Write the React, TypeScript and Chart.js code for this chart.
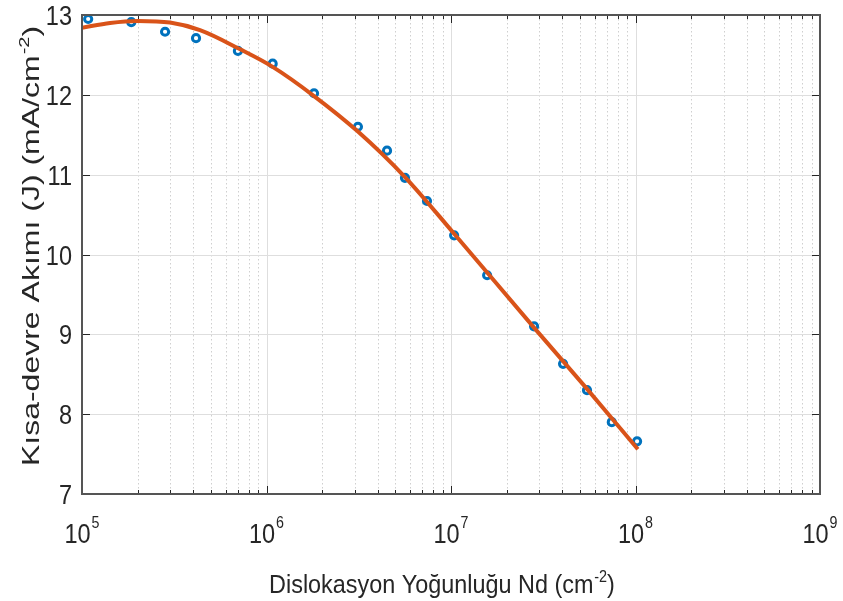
import React, { useEffect, useRef } from 'react';
import { Chart, registerables } from 'chart.js';

Chart.register(...registerables);

// ---- data ----
const measuredNd = [1.08e5, 1.85e5, 2.82e5, 4.15e5, 7.0e5, 1.08e6, 1.81e6, 3.13e6, 4.5e6, 5.63e6, 7.41e6, 1.04e7, 1.57e7, 2.82e7, 4.05e7, 5.46e7, 7.44e7, 1.02e8];
const measuredJ = [12.95, 12.91, 12.79, 12.71, 12.55, 12.39, 12.02, 11.6, 11.3, 10.96, 10.67, 10.24, 9.74, 9.1, 8.63, 8.3, 7.9, 7.66];

const fitNd = [1e5, 1.42e5, 2e5, 3e5, 4.36e5, 7.2e5, 1.08e6, 1.81e6, 3.13e6, 5.63e6, 1.04e7, 2.78e7, 5.4e7, 1.03e8];
const fitJ = [12.84, 12.9, 12.925, 12.905, 12.81, 12.57, 12.35, 11.985, 11.54, 10.97, 10.26, 9.1, 8.33, 7.56];

const yTickValues = [7, 8, 9, 10, 11, 12, 13];
const xDecadeExponents = [5, 6, 7, 8, 9];
const minorMultipliers = [2, 3, 4, 5, 6, 7, 8, 9];

const xTitleParts = [
  { t: 'Dislokasyon Yoğunluğu Nd (cm' },
  { t: '-2', sup: true },
  { t: ')' },
];
const yTitleParts = [
  { t: 'Kısa-devre Akımı (J) (mA/cm' },
  { t: '-2', sup: true },
  { t: ')' },
];

const FONT = '"Liberation Sans", Arial, Helvetica, sans-serif';

type Seg = { t: string; sup?: boolean };

function drawRich(
  ctx: CanvasRenderingContext2D,
  segs: Seg[],
  x: number,
  y: number,
  size: number,
  supSize: number,
  supRise: number,
  align: 'left' | 'center' | 'right',
  sx: number,
  rotate: boolean,
  color: string
) {
  ctx.save();
  const widths = segs.map((s) => {
    ctx.font = `${s.sup ? supSize : size}px ${FONT}`;
    return ctx.measureText(s.t).width + (s.sup ? 1 : 0);
  });
  const total = widths.reduce((a, b) => a + b, 0);
  ctx.translate(x, y);
  ctx.scale(sx, 1);
  if (rotate) ctx.rotate(-Math.PI / 2);
  let cx = align === 'left' ? 0 : align === 'center' ? -total / 2 : -total;
  ctx.fillStyle = color;
  ctx.textBaseline = 'alphabetic';
  ctx.textAlign = 'left';
  segs.forEach((s, i) => {
    ctx.font = `${s.sup ? supSize : size}px ${FONT}`;
    ctx.fillText(s.t, cx + (s.sup ? 1 : 0), s.sup ? -supRise : 0);
    cx += widths[i];
  });
  ctx.restore();
}

const matlabAxes = {
  id: 'matlabAxes',
  beforeDatasetsDraw(chart: any) {
    const { ctx, chartArea: a, scales } = chart;
    const xs = scales.x;
    const ys = scales.y;
    ctx.save();
    ctx.lineWidth = 1;
    // minor x grid (dotted)
    ctx.strokeStyle = '#cfcfcf';
    ctx.setLineDash([1.5, 2.5]);
    xDecadeExponents.slice(0, -1).forEach((e) => {
      minorMultipliers.forEach((m) => {
        const px = Math.round(xs.getPixelForValue(m * Math.pow(10, e))) + 0.5;
        ctx.beginPath();
        ctx.moveTo(px, a.top);
        ctx.lineTo(px, a.bottom);
        ctx.stroke();
      });
    });
    ctx.setLineDash([]);
    // major grid
    ctx.strokeStyle = '#dedede';
    xDecadeExponents.slice(1, -1).forEach((e) => {
      const px = Math.round(xs.getPixelForValue(Math.pow(10, e))) + 0.5;
      ctx.beginPath();
      ctx.moveTo(px, a.top);
      ctx.lineTo(px, a.bottom);
      ctx.stroke();
    });
    yTickValues.slice(1, -1).forEach((v) => {
      const py = Math.round(ys.getPixelForValue(v)) + 0.5;
      ctx.beginPath();
      ctx.moveTo(a.left, py);
      ctx.lineTo(a.right, py);
      ctx.stroke();
    });
    ctx.restore();
  },
  afterDatasetsDraw(chart: any) {
    const { ctx, chartArea: a, scales } = chart;
    const xs = scales.x;
    const ys = scales.y;
    ctx.save();
    // ticks (inward)
    ctx.strokeStyle = '#262626';
    ctx.lineWidth = 1;
    const xTick = (v: number, len: number) => {
      const px = Math.round(xs.getPixelForValue(v)) + 0.5;
      ctx.beginPath();
      ctx.moveTo(px, a.bottom);
      ctx.lineTo(px, a.bottom - len);
      ctx.moveTo(px, a.top);
      ctx.lineTo(px, a.top + len);
      ctx.stroke();
    };
    xDecadeExponents.forEach((e) => xTick(Math.pow(10, e), 8));
    xDecadeExponents.slice(0, -1).forEach((e) =>
      minorMultipliers.forEach((m) => xTick(m * Math.pow(10, e), 4))
    );
    yTickValues.forEach((v) => {
      const py = Math.round(ys.getPixelForValue(v)) + 0.5;
      ctx.beginPath();
      ctx.moveTo(a.left, py);
      ctx.lineTo(a.left + 8, py);
      ctx.moveTo(a.right, py);
      ctx.lineTo(a.right - 8, py);
      ctx.stroke();
    });
    // box
    ctx.strokeStyle = '#555555';
    ctx.lineWidth = 2;
    ctx.strokeRect(a.left, a.top, a.right - a.left, a.bottom - a.top);

    // y tick labels
    yTickValues.forEach((v) => {
      const py = ys.getPixelForValue(v);
      drawRich(ctx, [{ t: String(v) }], 72, py + 10, 28, 17, 15, 'right', 0.84, false, '#262626');
    });
    // x tick labels 10^n
    xDecadeExponents.forEach((e) => {
      const px = xs.getPixelForValue(Math.pow(10, e));
      drawRich(ctx, [{ t: '10' }, { t: String(e), sup: true }], px, 543, 28, 17, 15, 'center', 0.84, false, '#262626');
    });
    // axis titles
    drawRich(ctx, xTitleParts, 442, 593, 26, 16, 11, 'center', 0.9, false, '#262626');
    drawRich(ctx, yTitleParts, 39, 246, 32, 20, 14, 'center', 0.75, true, '#262626');
    ctx.restore();
  },
};

export default function App() {
  const ref = useRef<HTMLCanvasElement | null>(null);
  useEffect(() => {
    document.body.style.margin = '0';
    const canvas = ref.current!;
    const chart = new Chart(canvas, {
      type: 'scatter',
      data: {
        datasets: [
          {
            label: 'Fit',
            data: fitNd.map((x, i) => ({ x, y: fitJ[i] })),
            showLine: true,
            borderColor: '#D95319',
            backgroundColor: '#D95319',
            borderWidth: 4,
            pointRadius: 0,
            cubicInterpolationMode: 'monotone',
            order: 0,
          },
          {
            label: 'Ölçüm',
            data: measuredNd.map((x, i) => ({ x, y: measuredJ[i] })),
            showLine: false,
            pointStyle: 'circle',
            pointRadius: 3.6,
            pointBorderWidth: 3,
            borderColor: '#0072BD',
            pointBorderColor: '#0072BD',
            pointBackgroundColor: '#ffffff',
            backgroundColor: '#ffffff',
            order: 1,
          },
        ],
      },
      options: {
        responsive: false,
        animation: false,
        events: [],
        layout: { padding: { top: 15, right: 23, left: 0, bottom: 0 } },
        plugins: { legend: { display: false }, tooltip: { enabled: false }, title: { display: false } },
        scales: {
          x: {
            type: 'logarithmic',
            min: 1e5,
            max: 1e9,
            ticks: { display: false },
            grid: { display: false },
            border: { display: false },
            afterFit: (s: any) => {
              s.height = 601 - 494;
            },
          },
          y: {
            type: 'linear',
            min: 7,
            max: 13,
            ticks: { display: false },
            grid: { display: false },
            border: { display: false },
            afterFit: (s: any) => {
              s.width = 82;
            },
          },
        },
      } as any,
      plugins: [matlabAxes],
    });
    return () => chart.destroy();
  }, []);
  return (
    <div style={{ width: 843, height: 601, background: '#ffffff' }}>
      <canvas ref={ref} width={843} height={601} style={{ display: 'block' }} />
    </div>
  );
}
